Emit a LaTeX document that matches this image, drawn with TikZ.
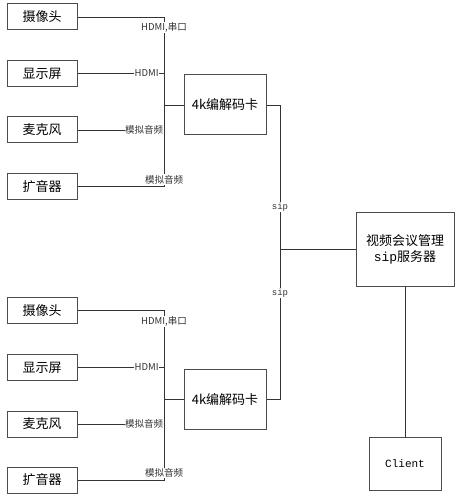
\documentclass[tikz,border=0pt]{standalone}
\usepackage{fontspec}
\usetikzlibrary{positioning}
\newfontfamily\cjk{Noto Sans CJK SC}
\newfontfamily\mono{Liberation Mono}

\begin{document}
\begin{tikzpicture}[
    x=1pt, y=-1pt,
    dev/.style={rectangle, draw=black!70, line width=1pt, fill=white,
                minimum width=70pt, minimum height=26pt, font=\cjk\fontsize{13}{15}\selectfont},
    card/.style={rectangle, draw=black!70, line width=1pt, fill=white,
                minimum width=82pt, minimum height=60pt, font=\cjk\fontsize{13}{16}\selectfont},
    lbl/.style={fill=white, inner sep=0.6pt, font=\cjk\fontsize{9.5}{11}\selectfont},
    siplbl/.style={fill=white, inner sep=0.8pt, font=\mono\fontsize{9}{10}\selectfont},
    wire/.style={line width=0.9pt, black!80}
  ]
    \useasboundingbox (0,0) rectangle (458,497);
    % upper group
    \node[dev] (cam1) at (42,17) {摄像头};
    \node[dev] (disp1) at (42,73.5) {显示屏};
    \node[dev] (mic1) at (42,130) {麦克风};
    \node[dev] (spk1) at (42,186.5) {扩音器};
    \node[card] (codec1) at (225,105) {4k编解码卡};
    \coordinate (hub1) at (164,105);
    % lower group
    \node[dev] (cam2) at (42,310.5) {摄像头};
    \node[dev] (disp2) at (42,367.5) {显示屏};
    \node[dev] (mic2) at (42,424) {麦克风};
    \node[dev] (spk2) at (42,480) {扩音器};
    \node[card] (codec2) at (225,399.5) {4k编解码卡};
    \coordinate (hub2) at (164,399.5);
    % server side
    \node[card, minimum width=98pt, minimum height=74pt, align=center] (server) at (405,249)
      {视频会议管理\\{\mono sip}服务器};
    \node[card, minimum width=72pt, minimum height=53pt, font=\mono\fontsize{11}{13}\selectfont] (client) at (405,463.5) {Client};
    \coordinate (siphub) at (280,249);

    \draw[wire] (cam1.east) -| node[lbl, pos=0.562] {HDMI,串口} (hub1);
    \draw[wire] (disp1.east) -| node[lbl, pos=0.4] {HDMI} (hub1);
    \draw[wire] (mic1.east) -| node[lbl, pos=0.385] {模拟音频} (hub1);
    \draw[wire] (spk1.east) -| node[lbl, pos=0.543] {模拟音频} (hub1);
    \draw[wire] (hub1) -- (codec1.west);

    \draw[wire] (cam2.east) -| node[lbl, pos=0.562] {HDMI,串口} (hub2);
    \draw[wire] (disp2.east) -| node[lbl, pos=0.4] {HDMI} (hub2);
    \draw[wire] (mic2.east) -| node[lbl, pos=0.385] {模拟音频} (hub2);
    \draw[wire] (spk2.east) -| node[lbl, pos=0.543] {模拟音频} (hub2);
    \draw[wire] (hub2) -- (codec2.west);

    \draw[wire] (codec1.east) -| node[siplbl, pos=0.854] {sip} (siphub);
    \draw[wire] (codec2.east) -| node[siplbl, pos=0.853] {sip} (siphub);
    \draw[wire] (siphub) -- (server.west);
    \draw[wire] (server) -- (client);
  \end{tikzpicture}
\end{document}
